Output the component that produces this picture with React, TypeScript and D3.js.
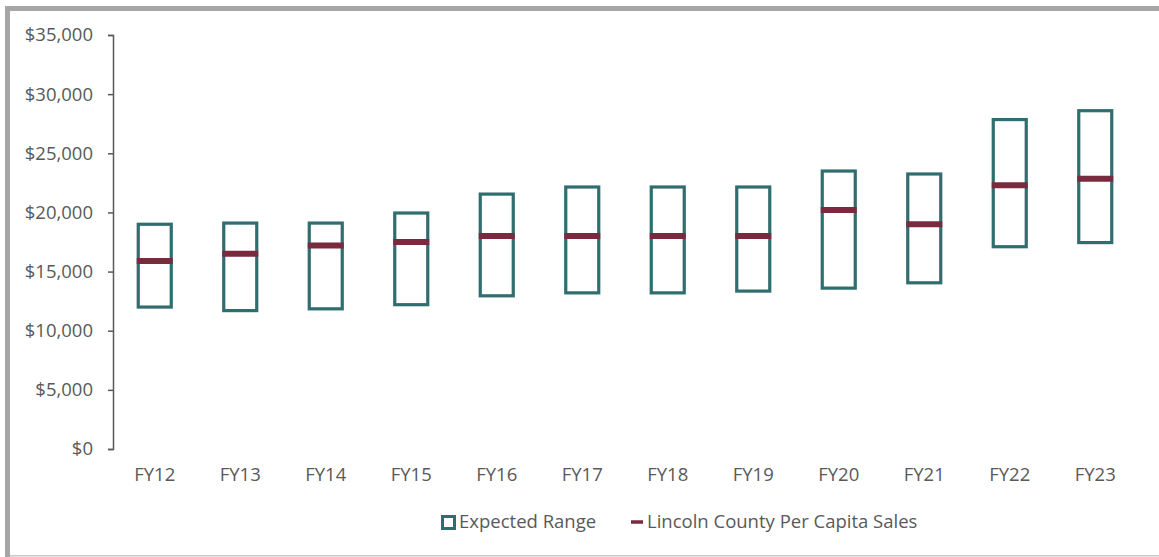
import React, { useEffect, useRef } from "react";
import * as d3 from "d3";

// data
const years = ["FY12", "FY13", "FY14", "FY15", "FY16", "FY17", "FY18", "FY19", "FY20", "FY21", "FY22", "FY23"];
const rangeLow = [12000, 11700, 11850, 12200, 12950, 13200, 13200, 13350, 13600, 14050, 17100, 17450];
const rangeHigh = [19000, 19100, 19100, 19950, 21550, 22150, 22150, 22150, 23500, 23250, 27850, 28600];
const perCapita = [15900, 16500, 17200, 17500, 18000, 18000, 18000, 18000, 20200, 19000, 22300, 22850];
const yTicks = [0, 5000, 10000, 15000, 20000, 25000, 30000, 35000];

const W = 1159;
const H = 557;
const margin = { top: 35, right: 21, bottom: 108, left: 112 };
const teal = "#2f6d6e";
const maroon = "#7a2a3e";
const textColor = "#595959";
const font = "'Open Sans', sans-serif";
const fontSize = 18.5;

export default function App() {
    const svgRef = useRef<SVGSVGElement>(null);

    useEffect(() => {
        const svg = d3.select(svgRef.current);
        svg.selectAll("*").remove();

        // frame
        svg.append("rect").attr("x", 5).attr("y", 6).attr("width", W - 5).attr("height", 5).attr("fill", "#a6a6a6");
        svg.append("rect").attr("x", 5).attr("y", 6).attr("width", 5).attr("height", H - 6).attr("fill", "#a6a6a6");
        svg.append("rect").attr("x", 10).attr("y", 555).attr("width", W - 10).attr("height", 1.5).attr("fill", "#c8c8c8");

        const x = d3.scaleBand().domain(years).range([margin.left, W - margin.right]);
        const y = d3.scaleLinear().domain([0, 35000]).range([H - margin.bottom, margin.top]);

        const data = years.map((yr, i) => ({ yr, lo: rangeLow[i], hi: rangeHigh[i], v: perCapita[i] }));

        // y axis
        const yAxis = svg.append("g")
            .attr("transform", `translate(${ margin.left + 1 },0)`)
            .call(d3.axisLeft(y).tickValues(yTicks).tickSize(5).tickPadding(15)
                .tickFormat(d => d3.format("$,")(d as number)));
        yAxis.select(".domain").attr("stroke", textColor).attr("stroke-width", 1.5);
        yAxis.selectAll(".tick line").attr("stroke", textColor).attr("stroke-width", 1.5);
        yAxis.selectAll(".tick text")
            .attr("fill", textColor)
            .attr("font-family", font)
            .attr("font-size", fontSize);

        // x labels
        svg.append("g")
            .selectAll("text")
            .data(years)
            .join("text")
            .attr("x", d => x(d)! + x.bandwidth() / 2)
            .attr("y", H - margin.bottom + 26)
            .attr("dy", "0.35em")
            .attr("text-anchor", "middle")
            .attr("fill", textColor)
            .attr("font-family", font)
            .attr("font-size", fontSize)
            .text(d => d);

        const boxW = 33;

        // expected range boxes
        svg.append("g")
            .selectAll("rect")
            .data(data)
            .join("rect")
            .attr("x", d => x(d.yr)! + x.bandwidth() / 2 - boxW / 2)
            .attr("y", d => y(d.hi))
            .attr("width", boxW)
            .attr("height", d => y(d.lo) - y(d.hi))
            .attr("fill", "none")
            .attr("stroke", teal)
            .attr("stroke-width", 3.2);

        // per capita marks
        svg.append("g")
            .selectAll("line")
            .data(data)
            .join("line")
            .attr("x1", d => x(d.yr)! + x.bandwidth() / 2 - boxW / 2 - 1.5)
            .attr("x2", d => x(d.yr)! + x.bandwidth() / 2 + boxW / 2 + 1.5)
            .attr("y1", d => y(d.v))
            .attr("y2", d => y(d.v))
            .attr("stroke", maroon)
            .attr("stroke-width", 6);

        // legend
        const lg = svg.append("g").attr("font-family", font).attr("font-size", fontSize).attr("fill", textColor);
        lg.append("rect").attr("x", 442.5).attr("y", 516.5).attr("width", 12).attr("height", 12)
            .attr("fill", "none").attr("stroke", teal).attr("stroke-width", 3);
        lg.append("text").attr("x", 459).attr("y", 522).attr("dy", "0.35em").text("Expected Range");
        lg.append("line").attr("x1", 631).attr("x2", 643).attr("y1", 522).attr("y2", 522)
            .attr("stroke", maroon).attr("stroke-width", 3.5);
        lg.append("text").attr("x", 647).attr("y", 522).attr("dy", "0.35em").text("Lincoln County Per Capita Sales");
    }, []);

    return <svg ref={ svgRef } width={ W } height={ H }
        style={ { position: "absolute", left: 0, top: 0, background: "#fff" } }/>;
}
